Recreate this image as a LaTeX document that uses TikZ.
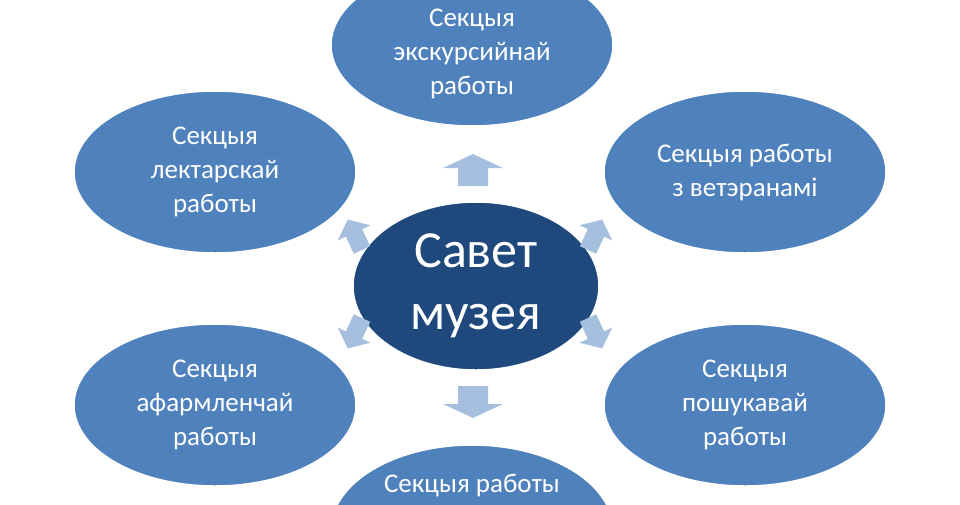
\documentclass[tikz,border=0pt]{standalone}
\usepackage{fontspec}
\setmainfont{Carlito}
\usetikzlibrary{shapes.geometric}
\definecolor{outerc}{HTML}{4F81BD}
\definecolor{innerc}{HTML}{1F497D}
\definecolor{arrc}{HTML}{A7BFDE}
\tikzset{
  sec/.style={ellipse, fill=outerc, draw=white, line width=1.5pt, minimum width=282pt, minimum height=162pt, text=white, font=\fontsize{27}{34}\selectfont, align=center, inner sep=0pt},
  ctr/.style={ellipse, fill=innerc, draw=white, line width=1.5pt, minimum width=246pt, minimum height=168pt, text=white, font=\fontsize{52}{62}\selectfont, align=center, inner sep=0pt},
  barrow/.pic={\fill[arrc] (-15,0) -- (-15,18) -- (-30,18) -- (0,32) -- (30,18) -- (15,18) -- (15,0) -- cycle;}
}
\begin{document}
\begin{tikzpicture}[x=1pt,y=-1pt]
\useasboundingbox (0,0) rectangle (960,504);
\clip (0,0) rectangle (960,504);
\node[sec] (top) at (472,45) {\\[2pt]Секцыя\\экскурсийнай\\работы};
\node[sec] (lt) at (215,172) {Секцыя\\лектарскай\\работы};
\node[sec] (rt) at (745,172) {Секцыя работы\\з ветэранамі};
\node[sec] (lb) at (215,405) {Секцыя\\афармленчай\\работы};
\node[sec] (rb) at (745,405) {Секцыя\\пошукавай\\работы};
\node[sec, minimum height=170pt] (bot) at (472,530) {Секцыя работы\\[60pt]};
\node[ctr] (c) at (476,286) {Савет\\музея};
\path (473,186) pic[rotate=180]{barrow};
\path (473,386) pic{barrow};
\path (362,250) pic[rotate=205,xscale=0.6,yscale=1.05]{barrow};
\path (588,250) pic[rotate=155,xscale=0.6,yscale=1.05]{barrow};
\path (362,318) pic[rotate=-25,xscale=0.6,yscale=1.05]{barrow};
\path (588,318) pic[rotate=25,xscale=0.6,yscale=1.05]{barrow};
\end{tikzpicture}
\end{document}
